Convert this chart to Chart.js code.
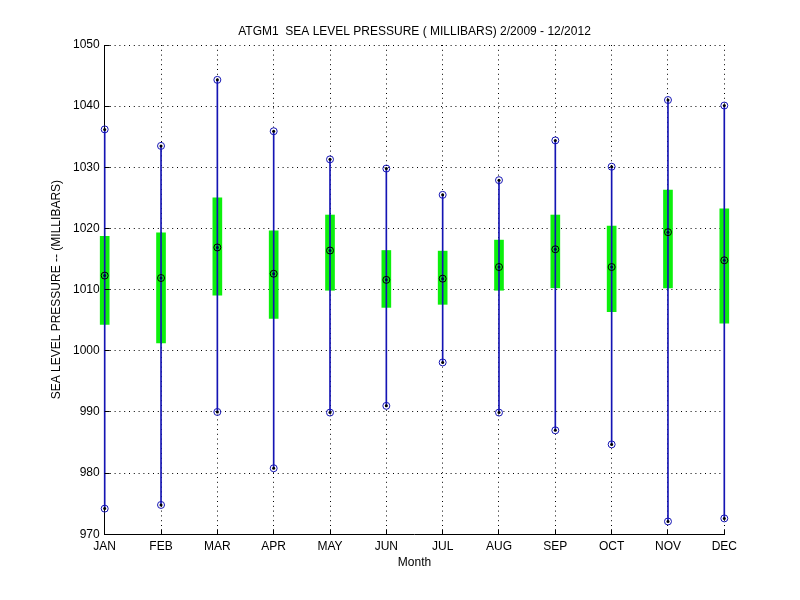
<!DOCTYPE html>
<html>
<head>
<meta charset="utf-8">
<script src="https://cdn.jsdelivr.net/npm/chart.js@4"></script>
<style>
  html, body { margin: 0; padding: 0; background: #ffffff; }
  #wrap { width: 800px; height: 600px; }
</style>
</head>
<body>
<div id="wrap"><canvas id="c" width="800" height="600"></canvas></div>
<script>
const months = ['JAN','FEB','MAR','APR','MAY','JUN','JUL','AUG','SEP','OCT','NOV','DEC'];
const maxV  = [1036.2, 1033.5, 1044.3, 1035.9, 1031.3, 1029.8, 1025.5, 1027.9, 1034.4, 1030.1, 1041.0, 1040.1];
const minV  = [974.2, 974.8, 990.0, 980.8, 989.9, 991.0, 998.1, 989.9, 987.0, 984.7, 972.1, 972.6];
const meanV = [1012.3, 1011.9, 1016.9, 1012.6, 1016.4, 1011.6, 1011.8, 1013.7, 1016.6, 1013.7, 1019.4, 1014.8];
const boxHigh = [1018.7, 1019.3, 1025.0, 1019.6, 1022.2, 1016.4, 1016.3, 1018.1, 1022.2, 1020.4, 1026.3, 1023.2];
const boxLow  = [1004.3, 1001.3, 1009.1, 1005.3, 1009.9, 1007.1, 1007.6, 1009.9, 1010.3, 1006.4, 1010.3, 1004.5];
const yTicks = [970, 980, 990, 1000, 1010, 1020, 1030, 1040, 1050];

const titleText = 'ATGM1  SEA LEVEL PRESSURE ( MILLIBARS) 2/2009 - 12/2012';
const yTitle = 'SEA LEVEL PRESSURE -- (MILLIBARS)';
const xTitle = 'Month';

const BLUE = '#1414b4';
const GREEN = '#0cf00c';

Chart.defaults.font.family = "'Liberation Sans', Arial, Helvetica, sans-serif";
Chart.defaults.font.size = 12;
Chart.defaults.color = '#000';

const innerTicks = {
  id: 'innerTicks',
  afterDraw(chart) {
    const {ctx, chartArea: a, scales: {x, y}} = chart;
    ctx.save();
    ctx.strokeStyle = '#000';
    ctx.lineWidth = 1;
    ctx.beginPath();
    y.ticks.forEach(t => {
      const py = Math.round(y.getPixelForValue(t.value) - 0.5) + 0.5;
      ctx.moveTo(a.left, py); ctx.lineTo(a.left + 5, py);
    });
    x.ticks.forEach((t, i) => {
      const px = Math.round(x.getPixelForTick(i) - 0.5) + 0.5;
      ctx.moveTo(px, a.bottom); ctx.lineTo(px, a.bottom - 5);
    });
    ctx.stroke();
    ctx.restore();
  }
};

const whiskers = months.map((m, i) => [minV[i], maxV[i]]);
const boxes = months.map((m, i) => [boxLow[i], boxHigh[i]]);

new Chart(document.getElementById('c'), {
  type: 'bar',
  data: {
    labels: months,
    datasets: [
      { type: 'bar', data: boxes, backgroundColor: GREEN, barThickness: 9, grouped: false, clip: false, order: 5 },
      { type: 'bar', data: whiskers, backgroundColor: BLUE, barThickness: 1, grouped: false, clip: false, order: 4 },
      { type: 'line', data: maxV, showLine: false, pointRadius: 3.5, pointBorderWidth: 1, pointBorderColor: BLUE, pointBackgroundColor: 'rgba(0,0,0,0)', clip: false, order: 3 },
      { type: 'line', data: minV, showLine: false, pointRadius: 3.5, pointBorderWidth: 1, pointBorderColor: BLUE, pointBackgroundColor: 'rgba(0,0,0,0)', clip: false, order: 3 },
      { type: 'line', data: meanV, showLine: false, pointRadius: 3.5, pointBorderWidth: 1, pointBorderColor: '#000000', pointBackgroundColor: 'rgba(0,0,0,0)', clip: false, order: 3 },
      { type: 'line', data: maxV, showLine: false, pointRadius: 1.5, pointBorderWidth: 0, pointBackgroundColor: '#000', clip: false, order: 1 },
      { type: 'line', data: minV, showLine: false, pointRadius: 1.5, pointBorderWidth: 0, pointBackgroundColor: '#000', clip: false, order: 1 },
      { type: 'line', data: meanV, showLine: false, pointRadius: 1.5, pointBorderWidth: 0, pointBackgroundColor: '#000050', clip: false, order: 1 }
    ]
  },
  options: {
    responsive: false,
    animation: false,
    devicePixelRatio: 1,
    layout: { padding: { top: 24.3, right: 75.7, bottom: 0, left: 0 } },
    plugins: {
      legend: { display: false },
      tooltip: { enabled: false },
      title: {
        display: true, text: titleText, fullSize: false, color: '#000',
        font: { size: 12, weight: 'normal' },
        padding: { top: 0, bottom: 6.3 }
      }
    },
    scales: {
      x: {
        type: 'category',
        offset: false,
        grid: { display: true, color: '#000', lineWidth: 1, drawTicks: false, offset: false },
        border: { display: true, color: '#000', width: 1, dash: [1, 3.8] },
        ticks: { autoSkip: false, maxRotation: 0, padding: 5, color: '#000', font: { size: 12 } },
        title: { display: true, text: xTitle, color: '#000', font: { size: 12 }, padding: { top: 0, bottom: 29.8 } },
        afterFit(scale) { scale.height = 65.7; }
      },
      y: {
        type: 'linear',
        min: 970, max: 1050,
        afterBuildTicks(scale) { scale.ticks = yTicks.map(v => ({ value: v })); },
        grid: { display: true, color: '#000', lineWidth: 1, drawTicks: false },
        border: { display: true, color: '#000', width: 1, dash: [1, 3.8] },
        ticks: { padding: 5, color: '#000', font: { size: 12 }, callback: (v) => String(v) },
        title: { display: true, text: yTitle, color: '#000', font: { size: 12 }, padding: { top: 49.8, bottom: 0 } },
        afterFit(scale) { scale.width = 104.7; }
      }
    }
  },
  plugins: [innerTicks]
});
</script>
</body>
</html>
